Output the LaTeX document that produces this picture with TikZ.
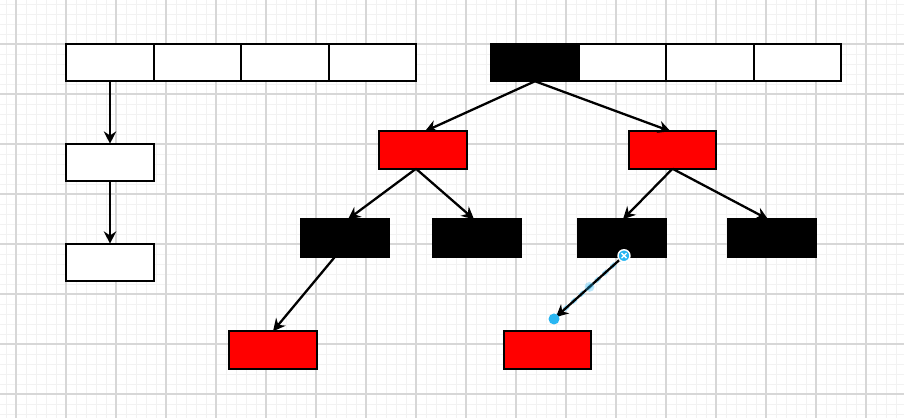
\documentclass[tikz,border=0pt]{standalone}
\usetikzlibrary{arrows.meta,positioning,calc}

\definecolor{gridminor}{RGB}{242,242,242}
\definecolor{gridmajor}{RGB}{215,215,215}
\definecolor{handleblue}{RGB}{41,182,242}

\begin{document}
\begin{tikzpicture}[
    x=0.02cm, y=-0.02cm, % 1 單位 = 1 像素
    line width=1.3pt,
    >={Stealth[length=7pt, width=7pt, inset=2.3pt]},
    % 定義通用樣式
    cell/.style={
        draw,
        fill=white,
        minimum width=1.75cm,
        minimum height=0.75cm,
        inner sep=0pt,
        outer sep=0pt
    },
    rednode/.style={cell, fill=red},
    blacknode/.style={cell, fill=black}
]
    % --- 0. 背景網格 ---
    \fill[white] (0,0) rectangle (904,418);
    \useasboundingbox (0,0) rectangle (904,418);
    \foreach \gx in {6,16,...,896} {
        \draw[gridminor, line width=0.5pt] (\gx,0) -- (\gx,418);
    }
    \foreach \gy in {4,14,...,414} {
        \draw[gridminor, line width=0.5pt] (0,\gy) -- (904,\gy);
    }
    \foreach \gx in {16,66,...,866} {
        \draw[gridmajor, line width=0.6pt] (\gx,0) -- (\gx,418);
    }
    \foreach \gy in {44,94,...,394} {
        \draw[gridmajor, line width=0.6pt] (0,\gy) -- (904,\gy);
    }

    % --- 1. Array (Left) ---
    \node[cell] (arrA1) at (110,62.5) {};
    \node[cell, right=0pt of arrA1] (arrA2) {};
    \node[cell, right=0pt of arrA2] (arrA3) {};
    \node[cell, right=0pt of arrA3] (arrA4) {};

    % 鏈結串列
    \node[cell, below=1.25cm of arrA1] (listA1) {};
    \node[cell, below=1.25cm of listA1] (listA2) {};

    % --- 2. Array (Right) ---
    \node[blacknode] (arrB1) at (535,62.5) {};
    \node[cell, right=0pt of arrB1] (arrB2) {};
    \node[cell, right=0pt of arrB2] (arrB3) {};
    \node[cell, right=0pt of arrB3] (arrB4) {};

    % --- 3. Tree ---
    \node[rednode] (red1) at (423,150) {};
    \node[rednode] (red2) at (672.5,150) {};
    \node[blacknode] (blk1) at (345,238) {};
    \node[blacknode] (blk2) at (477,238) {};
    \node[blacknode] (blk3) at (622,238) {};
    \node[blacknode] (blk4) at (772,238) {};
    \node[rednode] (red3) at (273,350) {};
    \node[rednode] (red4) at (547.5,350) {};

    % 被選取連線的自由端點
    \coordinate (selEnd) at (556,317);

    % --- 4. Arrows ---
    \draw[->] (arrA1.south) -- (listA1.north);
    \draw[->] (listA1.south) -- (listA2.north);

    \draw[->] (arrB1.south) -- ([xshift=0.04cm]red1.north);
    \draw[->] (arrB1.south) -- ([xshift=-0.04cm]red2.north);
    \draw[->] ([xshift=-0.14cm]red1.south) -- ([xshift=0.06cm]blk1.north);
    \draw[->] ([xshift=-0.14cm]red1.south) -- ([xshift=-0.06cm]blk2.north);
    \draw[->] (red2.south) -- ([xshift=0.02cm]blk3.north);
    \draw[->] (red2.south) -- ([xshift=-0.08cm]blk4.north);
    \draw[->] ([xshift=-0.2cm]blk1.south) -- (red3.north);

    % 選取中的連線 (藍色標記)
    \draw[handleblue!50, line width=2.4pt, dash pattern=on 3pt off 3pt] ([xshift=0.02cm]blk3.south) -- (selEnd);
    \draw[->] ([xshift=0.02cm]blk3.south) -- (selEnd);
    \fill[handleblue, opacity=0.3] ($([xshift=0.02cm]blk3.south)!0.5!(selEnd)$) circle (5);
    \fill[handleblue] (selEnd) ++(-2,2) circle (5.5);
    \draw[white, line width=0.8pt, fill=handleblue] ([xshift=0.02cm]blk3.south) ++(1,-1) circle (6);
    \draw[white, line width=0.8pt] ([xshift=0.02cm]blk3.south) ++(-1.5,-3.5) -- ++(5,5)
        ([xshift=0.02cm]blk3.south) ++(-1.5,1.5) -- ++(5,-5);
\end{tikzpicture}
\end{document}
